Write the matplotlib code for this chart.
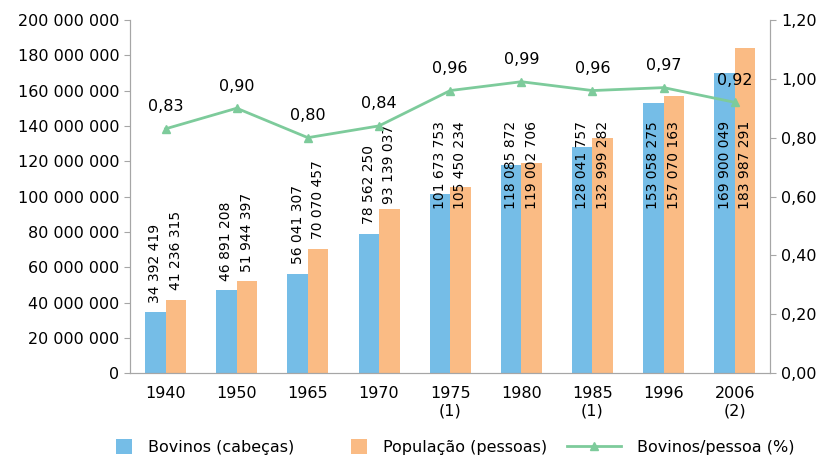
import numpy as np
import matplotlib
matplotlib.use("Agg")
import matplotlib.pyplot as plt
from matplotlib.legend_handler import HandlerLine2D
from matplotlib.ticker import FuncFormatter

# data
anos = ["1940", "1950", "1965", "1970", "1975\n(1)", "1980", "1985\n(1)", "1996", "2006\n(2)"]
bovinos = [34392419, 46891208, 56041307, 78562250, 101673753, 118085872, 128041757, 153058275, 169900049]
populacao = [41236315, 51944397, 70070457, 93139037, 105450234, 119002706, 132999282, 157070163, 183987291]
bov_pessoa = [0.83, 0.90, 0.80, 0.84, 0.96, 0.99, 0.96, 0.97, 0.92]

AZUL = "#75BDE7"
LARANJA = "#FABB84"
VERDE = "#7DCB9B"
CINZA = "#A6A6A6"

plt.rcParams['font.family'] = ['DejaVu Sans']


def milhar(v):
    return f"{int(v):,}".replace(",", " ")


class LinhaLonga(HandlerLine2D):
    # make the line entry longer than the square patches
    def create_artists(self, legend, orig_handle, xdescent, ydescent, width, height, fontsize, trans):
        extra = 2.4 * fontsize
        return super().create_artists(legend, orig_handle, xdescent + extra, ydescent,
                                      width + extra, height, fontsize, trans)


fig = plt.figure(figsize=(8.2, 4.63), dpi=100)
ax = fig.add_axes([0.1585, 0.194, 0.781, 0.763])
ax2 = ax.twinx()

x = np.arange(len(anos))
w = 0.288
b1 = ax.bar(x - w / 2, bovinos, w, color=AZUL, label="Bovinos (cabeças)", zorder=2)
b2 = ax.bar(x + w / 2, populacao, w, color=LARANJA, label="População (pessoas)", zorder=2)

# rotated value labels, pushed up but kept below the line
for xs, vals in [(x - w / 2, bovinos), (x + w / 2, populacao)]:
    for xi, v in zip(xs, vals):
        yc = min(v + 28e6, 118e6)
        ax.text(xi, yc, milhar(v), rotation=90, ha="center", va="center", fontsize=10, zorder=3)

ax.set_xlim(-0.5, len(anos) - 0.5)
ax.set_ylim(0, 200e6)
ax.set_yticks(np.arange(0, 200e6 + 1, 20e6))
ax.yaxis.set_major_formatter(FuncFormatter(lambda v, p: milhar(v)))
ax.set_xticks(x)
ax.set_xticklabels(anos)
ax.tick_params(axis="x", length=0, labelsize=11.5, pad=9)
ax.tick_params(axis="y", length=4, color=CINZA, labelsize=11.5)

l, = ax2.plot(x, bov_pessoa, color=VERDE, lw=2, marker="^", ms=6, label="Bovinos/pessoa (%)", zorder=4)
for xi, v in zip(x, bov_pessoa):
    ax2.annotate(f"{v:.2f}".replace(".", ","), (xi, v), xytext=(0, 16), textcoords="offset points",
                 ha="center", va="center", fontsize=11.5)
ax2.set_ylim(0, 1.2)
ax2.set_yticks(np.arange(0, 1.21, 0.2))
ax2.yaxis.set_major_formatter(FuncFormatter(lambda v, p: f"{v:.2f}".replace(".", ",")))
ax2.tick_params(axis="y", length=4, color=CINZA, labelsize=11.5)

for a in (ax, ax2):
    a.spines["top"].set_visible(False)
    for s in ("left", "right", "bottom"):
        a.spines[s].set_color(CINZA)

fig.legend(handles=[b1, b2, l], loc="center", bbox_to_anchor=(0.555, 0.034), ncol=3, frameon=False,
           fontsize=11.5, handlelength=1.0, handleheight=1.0, columnspacing=3.6, handletextpad=1.0,
           handler_map={l: LinhaLonga(numpoints=1)})

fig.savefig("out.png", dpi=100)
